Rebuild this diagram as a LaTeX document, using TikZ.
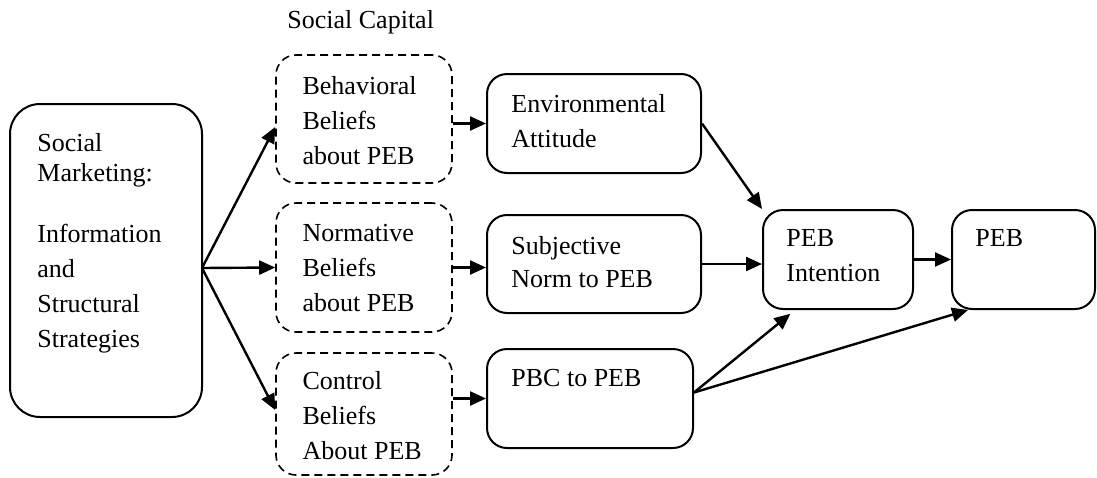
\documentclass[tikz,border=0pt]{standalone}
\usepackage{fontspec}
\setmainfont{Liberation Serif}
\usetikzlibrary{fit,arrows.meta}
\tikzset{
  box/.style={draw, line width=1pt, rounded corners=10pt, inner sep=0pt},
  dbox/.style={box, line width=.8pt, dash pattern=on 4pt off 2.5pt},
  txt/.style={anchor=north west, inner sep=0pt, align=left, font=\fontsize{13}{17.5}\selectfont},
  arr/.style={-{Triangle[length=8pt,width=7pt]}, line width=1.2pt},
}
\begin{document}
\begin{tikzpicture}[x=.5pt,y=-.5pt]
\useasboundingbox (0,0) rectangle (1097,477);
% boxes
\node[box, rounded corners=15pt, fit={(10,104)(202,417)}] (sm) {};
\node[dbox, fit={(276,55)(452,183)}] (bb) {};
\node[dbox, fit={(276,203)(452,332)}] (nb) {};
\node[dbox, fit={(276,353)(452,475)}] (cb) {};
\node[box, fit={(487,74)(701,173)}] (env) {};
\node[box, fit={(487,215)(701,313)}] (subj) {};
\node[box, fit={(487,349)(693,448)}] (pbc) {};
\node[box, fit={(763,210)(913,309)}] (int) {};
\node[box, fit={(952,210)(1095,309)}] (peb) {};
% texts
\node[txt, anchor=base west] (sclabel) at (287,28) {Social Capital};
\node[txt] (smtext) at ([shift={(14pt,-15pt)}]sm.north west) {Social\\[-2.5pt]Marketing:\\[13pt]Information\\and\\Structural\\Strategies};
\node[txt] (bbtext) at ([shift={(13.5pt,-11pt)}]bb.north west) {Behavioral\\Beliefs\\about PEB};
\node[txt] (nbtext) at ([shift={(13.5pt,-11pt)}]nb.north west) {Normative\\Beliefs\\about PEB};
\node[txt] (cbtext) at ([shift={(13.5pt,-9.5pt)}]cb.north west) {Control\\Beliefs\\About PEB};
\node[txt] (envtext) at ([shift={(12.5pt,-10.5pt)}]env.north west) {Environmental\\Attitude};
\node[txt] (subjtext) at ([shift={(12.5pt,-11pt)}]subj.north west) {Subjective\\[-1pt]Norm to PEB};
\node[txt] (pbctext) at ([shift={(12.5pt,-10.5pt)}]pbc.north west) {PBC to PEB};
\node[txt] (inttext) at ([shift={(12pt,-10pt)}]int.north west) {PEB\\Intention};
\node[txt] (pebtext) at ([shift={(12pt,-10pt)}]peb.north west) {PEB};
% arrows
\coordinate (fork) at (202,268);
\draw[arr] (fork) -- ([yshift=-4pt]bb.west);
\draw[arr] (fork) -- (nb.west);
\draw[arr] (fork) -- ([yshift=2pt]cb.west);
\draw[arr] (bb.east |- env.west) -- (env.west);
\draw[arr] (nb.east) -- (nb.east -| subj.west);
\draw[arr] (cb.east |- pbc.west) -- (pbc.west);
\draw[arr] (env.east) -- (int.north west);
\draw[arr] (subj.east) -- (subj.east -| int.west);
\draw[arr] (int.east) -- (int.east -| peb.west);
\coordinate (pbcout) at ([yshift=3pt]pbc.east);
\draw[arr, shorten >=3pt] (pbcout) -- ([xshift=16.5pt]int.south west);
\draw[arr] (pbcout) -- ([xshift=8.5pt]peb.south west);
\end{tikzpicture}
\end{document}
